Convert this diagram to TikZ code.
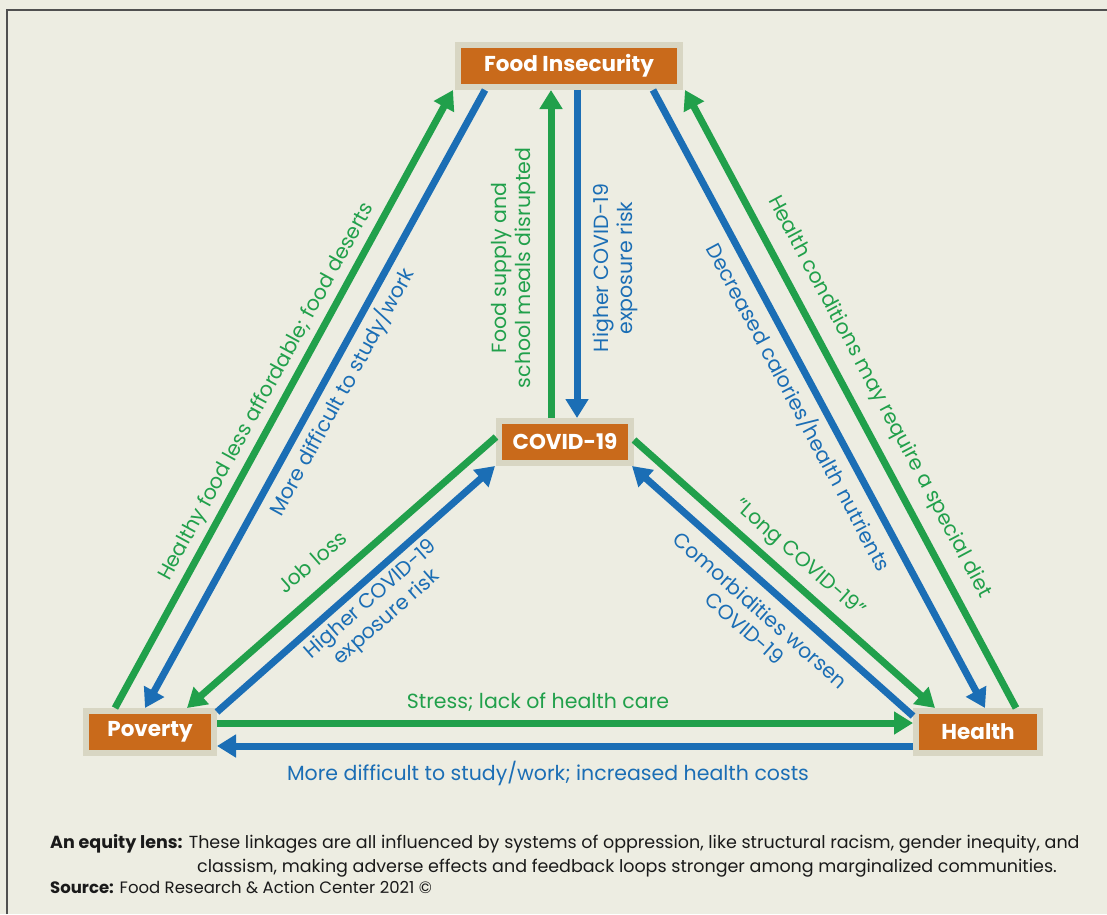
\documentclass[tikz,border=0pt]{standalone}
\usepackage{fontspec}
\setmainfont{Poppins}
\usetikzlibrary{arrows.meta,calc}
\definecolor{bg}{HTML}{EDEDE2}
\definecolor{orng}{HTML}{C96A1B}
\definecolor{bord}{HTML}{D8D6C3}
\definecolor{grn}{HTML}{21A04B}
\definecolor{blu}{HTML}{1B6EB5}
\definecolor{ink}{HTML}{1A1A1A}
\definecolor{frm}{HTML}{505050}
\begin{document}
\begin{tikzpicture}[x=1pt,y=-1pt,
  box/.style={rectangle, fill=orng, draw=bord, line width=6pt, minimum height=42pt,
    inner sep=0pt, outer sep=3pt, text=white, font=\fontsize{21.5}{24}\selectfont\bfseries},
  garr/.style={draw=grn, line width=7pt, -{Triangle[width=22pt,length=19pt]}},
  barr/.style={draw=blu, line width=7pt, -{Triangle[width=22pt,length=19pt]}},
  lab/.style={font=\fontsize{20.5}{24}\selectfont, align=center, inner sep=0pt},
  glab/.style={lab, text=grn},
  blab/.style={lab, text=blu},
  foot/.style={font=\fontsize{17.5}{19}\selectfont, text=ink, inner sep=0pt, anchor=base west}]
\useasboundingbox (0,0) rectangle (1107,914);
\fill[bg] (0,0) rectangle (1107,914);
\draw[frm, line width=2pt] (7,914) -- (7,10) -- (1107,10);

\node[box, minimum width=222pt] (food) at (569,66) {Food Insecurity};
\node[box, minimum width=132pt] (cov) at (565,442) {COVID-19};
\node[box, minimum width=128pt] (pov) at (150,732) {Poverty};
\node[box, minimum width=124pt] (hea) at (978,732) {Health};

% Poverty <-> Food
\draw[garr] ([xshift=-35pt]pov.north) -- ([xshift=-2pt]food.south west);
\draw[barr] ([xshift=30pt]food.south west) -- ([xshift=-5pt]pov.north);
% COVID <-> Food
\draw[garr] ([xshift=-14pt]cov.north) -- ([xshift=-14pt]cov.north |- food.south);
\draw[barr] ([xshift=12pt]cov.north |- food.south) -- ([xshift=12pt]cov.north);
% Food <-> Health
\draw[barr] ([xshift=-30pt]food.south east) -- ([xshift=7pt]hea.north);
\draw[garr] ([xshift=38pt]hea.north) -- ([xshift=2pt]food.south east);
% COVID <-> Poverty
\draw[garr] ([yshift=5pt]cov.west) -- ([xshift=-30pt]pov.north east);
\draw[barr] ([yshift=-4pt]pov.north east) -- ([xshift=-1pt]cov.south west);
% COVID <-> Health
\draw[garr] ([yshift=2pt]cov.east) -- ([xshift=22pt]hea.north west);
\draw[barr] ([yshift=-8pt]hea.north west) -- ([xshift=-2pt]cov.south east);
% Poverty <-> Health
\draw[garr] ([yshift=9pt]pov.east) -- ([yshift=9pt]pov.east -| hea.west);
\draw[barr] ([yshift=-14pt]hea.west) -- ([yshift=-14pt]hea.west -| pov.east);

% labels
\node[glab, rotate=61.3] (l1) at (267,392) {Healthy food less affordable; food deserts};
\node[blab, rotate=61.3] (l2) at (342,392) {More difficult to study/work};
\node[glab, rotate=90] (l3) at (514,268) {Food supply and\\school meals disrupted};
\node[blab, rotate=90] (l4) at (615,268) {Higher COVID-19\\exposure risk};
\node[blab, rotate=-61.9] (l5) at (799,407) {Decreased calories/health nutrients};
\node[glab, rotate=-61.9] (l6) at (879,397) {Health conditions may require a special diet};
\node[glab, rotate=41.3] (l7) at (312,562) {Job loss};
\node[blab, rotate=41.3] (l8) at (379,609) {Higher COVID-19\\exposure risk};
\node[glab, rotate=-41.5] (l9) at (799,559) {"Long COVID-19"};
\node[blab, rotate=-41.5] (l10) at (753,619) {Comorbidities worsen\\COVID-19};
\node[glab] (l11) at (538,702) {Stress; lack of health care};
\node[blab] (l12) at (548,773) {More difficult to study/work; increased health costs};

% footer
\node[foot] (f1) at (50,848) {\textbf{An equity lens:} These linkages are all influenced by systems of oppression, like structural racism, gender inequity, and};
\node[foot] (f2) at (197,872) {classism, making adverse effects and feedback loops stronger among marginalized communities.};
\node[foot, font=\fontsize{16.5}{17}\selectfont] (f3) at (50,893) {\textbf{Source:} Food Research \& Action Center 2021 ©};
\end{tikzpicture}
\end{document}
